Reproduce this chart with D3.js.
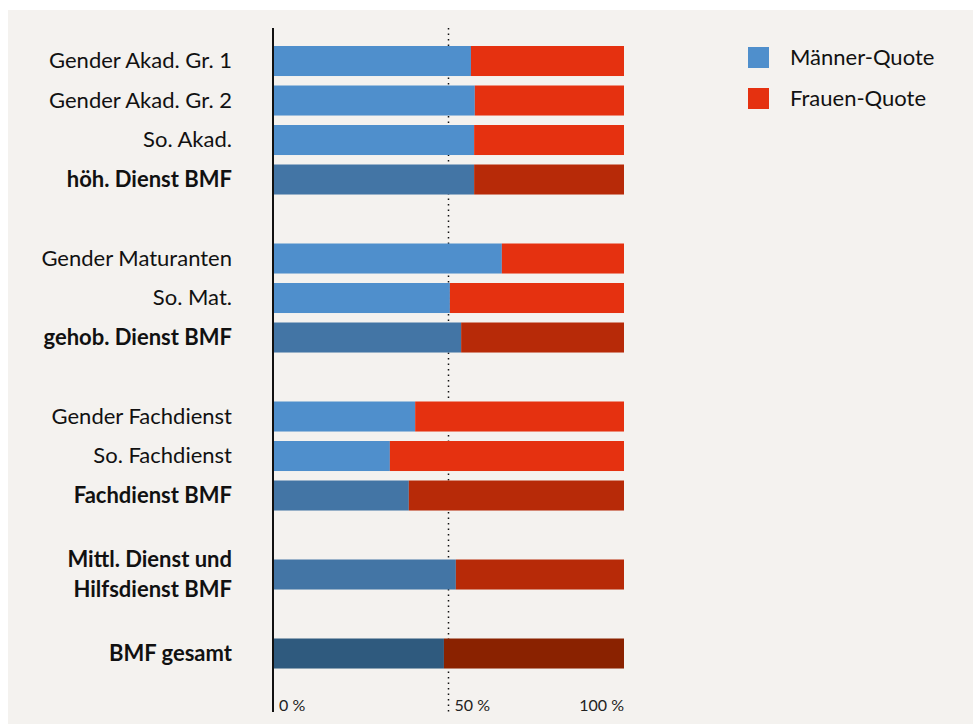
<!DOCTYPE html>
<html>
<head>
<meta charset="utf-8">
<script src="https://cdn.jsdelivr.net/npm/d3@7"></script>
<style>
  body { margin: 0; background: #fff; }
  svg { display: block; font-family: Lato, "Open Sans", sans-serif; }
</style>
</head>
<body>
<div id="chart"></div>
<script>
// categories (null = empty gap row)
const categories = [
    "Gender Akad. Gr. 1", "Gender Akad. Gr. 2", "So. Akad.", "höh. Dienst BMF", null,
    "Gender Maturanten", "So. Mat.", "gehob. Dienst BMF", null,
    "Gender Fachdienst", "So. Fachdienst", "Fachdienst BMF", null,
    "Mittl. Dienst und|Hilfsdienst BMF", null,
    "BMF gesamt"
];
// Männer-Quote in %, Frauen-Quote = 100 - value
const maleShare = [56.4, 57.5, 57.3, 57.3, null, 65.2, 50.4, 53.6, null, 40.5, 33.3, 38.7, null, 52.1, null, 48.7];
// 0 = detail, 1 = BMF total of group, 2 = overall total
const level = [0, 0, 0, 1, null, 0, 0, 1, null, 0, 0, 1, null, 1, null, 2];
const ticks = [0, 50, 100];
const legendLabels = ["Männer-Quote", "Frauen-Quote"];

const maleColors = ["#4f8fcc", "#4375a5", "#2f5a7e"];
const femaleColors = ["#e53110", "#b72a08", "#8a2200"];

const width = 973;
const height = 724;

const svg = d3.select('#chart')
    .append('svg')
    .attr('width', width)
    .attr('height', height);

svg.append('rect')
    .attr('x', 8).attr('y', 10)
    .attr('width', width - 8).attr('height', height - 10)
    .attr('fill', '#f4f2ef');

const x = d3.scaleLinear()
    .domain([0, 100])
    .range([273, 624]);

// step of 39.5px per row, bar ~30px high
const y = d3.scaleBand()
    .domain(d3.range(categories.length))
    .range([46, 46 + 39.5 * (categories.length - 0.24)])
    .paddingInner(0.24)
    .paddingOuter(0);

const rows = categories.map((c, i) => ({label: c, male: maleShare[i], lvl: level[i], i}))
    .filter(d => d.label !== null);

// 50% dotted line
svg.append('line')
    .attr('x1', x(50)).attr('x2', x(50))
    .attr('y1', 28).attr('y2', 712)
    .attr('stroke', '#111')
    .attr('stroke-width', 1.5)
    .attr('stroke-dasharray', '1.5,4');

// bars
const bars = svg.append('g');
bars.selectAll('rect.m')
    .data(rows)
    .join('rect')
        .attr('class', 'm')
        .attr('x', x(0))
        .attr('y', d => y(d.i))
        .attr('width', d => x(d.male) - x(0))
        .attr('height', y.bandwidth())
        .attr('fill', d => maleColors[d.lvl]);
bars.selectAll('rect.f')
    .data(rows)
    .join('rect')
        .attr('class', 'f')
        .attr('x', d => x(d.male))
        .attr('y', d => y(d.i))
        .attr('width', d => x(100) - x(d.male))
        .attr('height', y.bandwidth())
        .attr('fill', d => femaleColors[d.lvl]);

// category labels
const labels = svg.append('g')
    .attr('font-size', 22)
    .attr('fill', '#111')
    .attr('text-anchor', 'end');
rows.forEach(d => {
    const lines = d.label.split('|');
    const cy = y(d.i) + y.bandwidth() / 2;
    const t = labels.append('text')
        .attr('x', 232)
        .attr('font-weight', d.lvl > 0 ? 700 : 400);
    lines.forEach((l, k) => {
        t.append('tspan')
            .attr('x', 232)
            .attr('y', cy + 7 + (k - (lines.length - 1) / 2) * 30)
            .text(l);
    });
});

// y axis line
svg.append('line')
    .attr('x1', x(0)).attr('x2', x(0))
    .attr('y1', 28).attr('y2', 712)
    .attr('stroke', '#111')
    .attr('stroke-width', 2);

// x tick labels
svg.append('g')
    .attr('font-size', 16)
    .attr('fill', '#222')
    .selectAll('text')
    .data(ticks)
    .join('text')
        .attr('x', d => d === 100 ? x(d) : x(d) + 6)
        .attr('y', 711)
        .attr('text-anchor', d => d === 100 ? 'end' : 'start')
        .text(d => d + ' %');

// legend
const legend = svg.append('g')
    .selectAll('g')
    .data(legendLabels)
    .join('g')
        .attr('transform', (d, i) => `translate(748, ${47 + i * 41})`);
legend.append('rect')
    .attr('width', 21).attr('height', 21)
    .attr('fill', (d, i) => i === 0 ? maleColors[0] : femaleColors[0]);
legend.append('text')
    .attr('x', 42).attr('y', 18)
    .attr('font-size', 22)
    .attr('fill', '#111')
    .text(d => d);
</script>
</body>
</html>
